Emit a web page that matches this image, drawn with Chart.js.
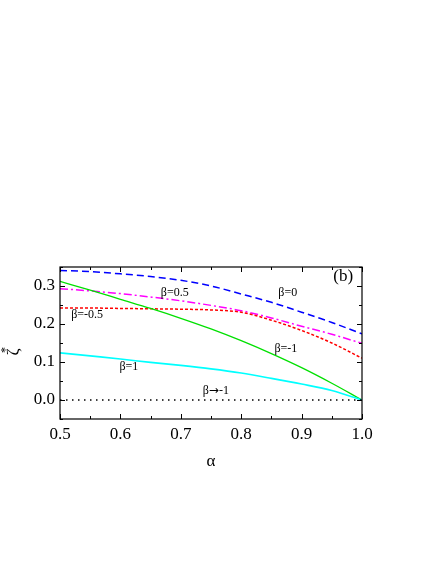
<!DOCTYPE html>
<html>
<head>
<meta charset="utf-8">
<script src="https://cdn.jsdelivr.net/npm/chart.js@4/dist/chart.umd.min.js"></script>
<style>
  html, body { margin: 0; padding: 0; background: #fff; }
  #wrap { width: 436px; height: 564px; }
</style>
</head>
<body>
<div id="wrap"><canvas id="chart" width="436" height="564"></canvas></div>
<script>
// alpha values (x axis)
const alpha = [0.5, 0.55, 0.6, 0.65, 0.7, 0.75, 0.8, 0.85, 0.9, 0.95, 1.0];

// zeta* for each beta
const beta0    = [0.341, 0.338, 0.332, 0.325, 0.315, 0.300, 0.279, 0.257, 0.231, 0.204, 0.174];
const betaHalf = [0.293, 0.287, 0.280, 0.271, 0.261, 0.249, 0.235, 0.216, 0.194, 0.173, 0.149];
const betaMHalf = [0.242, 0.242, 0.241, 0.240, 0.239, 0.237, 0.231, 0.210, 0.183, 0.150, 0.110];
const betaM1   = [0.312, 0.289, 0.265, 0.241, 0.215, 0.187, 0.156, 0.122, 0.085, 0.044, 0.0];
const beta1    = [0.124, 0.116, 0.108, 0.099, 0.091, 0.082, 0.071, 0.057, 0.042, 0.025, 0.0];
const betaLim  = [0, 0, 0, 0, 0, 0, 0, 0, 0, 0, 0];

const xTickLabels = ['0.5', '0.6', '0.7', '0.8', '0.9', '1.0'];
const yTickLabels = ['0.0', '0.1', '0.2', '0.3'];

// curve labels placed in data coordinates
const curveLabels = [
    { text: 'β=0', x: 0.877, y: 0.282 },
    { text: 'β=0.5', x: 0.690, y: 0.282 },
    { text: 'β=-0.5', x: 0.545, y: 0.224 },
    { text: 'β=-1', x: 0.874, y: 0.134 },
    { text: 'β=1', x: 0.614, y: 0.087 },
    { text: 'β→-1', x: 0.758, y: 0.024 }
];

const serif = '"Liberation Serif", "DejaVu Serif", serif';

function pts(ys) {
    return alpha.map((a, i) => ({ x: a, y: ys[i] }));
}

// true for 0.0, 0.1, 0.2 ... (not the 0.05 minor steps)
function isMajor(v) {
    return Math.abs(Math.round(v * 10) - v * 10) < 1e-6;
}

function label(v, list) {
    if (!isMajor(v)) return '';
    const s = (Math.round(v * 10) / 10).toFixed(1);
    return list.includes(s) ? s : '';
}

// draw text centred at (x, y); the arrow gets a wider glyph like the original
function drawLabel(ctx, text, x, y) {
    const parts = text.split(/(→)/).filter(p => p);
    const fonts = parts.map(p => p === '→' ? '12px "DejaVu Sans"' : '12px ' + serif);
    const widths = parts.map((p, i) => { ctx.font = fonts[i]; return ctx.measureText(p).width; });
    let cx = x - widths.reduce((s, w) => s + w, 0) / 2;
    ctx.textAlign = 'left';
    parts.forEach((p, i) => {
        ctx.font = fonts[i];
        ctx.fillText(p, cx, y);
        cx += widths[i];
    });
}

// box, inward ticks on all four sides, curve labels, y title
const framePlugin = {
    id: 'frame',
    afterDraw(chart) {
        const ctx = chart.ctx;
        const a = chart.chartArea;
        const xs = chart.scales.x;
        const ys = chart.scales.y;
        ctx.save();
        ctx.strokeStyle = '#000';
        ctx.lineWidth = 1.2;
        ctx.strokeRect(a.left, a.top, a.right - a.left, a.bottom - a.top);

        ctx.lineWidth = 1;
        ctx.beginPath();
        xs.ticks.forEach(t => {
            const px = Math.round(xs.getPixelForValue(t.value)) + 0.5;
            const len = isMajor(t.value) ? 5 : 3;
            ctx.moveTo(px, a.bottom); ctx.lineTo(px, a.bottom - len);
            ctx.moveTo(px, a.top); ctx.lineTo(px, a.top + len);
        });
        ys.ticks.forEach(t => {
            const py = Math.round(ys.getPixelForValue(t.value)) + 0.5;
            const len = isMajor(t.value) ? 5 : 3;
            ctx.moveTo(a.left, py); ctx.lineTo(a.left + len, py);
            ctx.moveTo(a.right, py); ctx.lineTo(a.right - len, py);
        });
        ctx.stroke();

        ctx.fillStyle = '#000';
        ctx.textBaseline = 'middle';
        curveLabels.forEach(l => {
            drawLabel(ctx, l.text, xs.getPixelForValue(l.x), ys.getPixelForValue(l.y));
        });
        ctx.textAlign = 'center';
        ctx.font = '17px ' + serif;
        ctx.fillText('(b)', xs.getPixelForValue(0.969), ys.getPixelForValue(0.326));

        // y title: zeta with superscript star, rotated
        ctx.translate(14, 352);
        ctx.rotate(-Math.PI / 2);
        ctx.font = '17px ' + serif;
        ctx.fillText('ζ', 0, 0);
        ctx.font = '12px ' + serif;
        ctx.fillText('*', 2, -8);
        ctx.restore();
    }
};

const ctx = document.getElementById('chart').getContext('2d');
new Chart(ctx, {
    type: 'line',
    data: {
        datasets: [
            { label: 'β→-1', data: pts(betaLim), borderColor: '#000', borderWidth: 1.5, borderDash: [1.5, 4.5] },
            { label: 'β=1', data: pts(beta1), borderColor: '#00ffff', borderWidth: 1.6 },
            { label: 'β=-1', data: pts(betaM1), borderColor: '#00e000', borderWidth: 1.3 },
            { label: 'β=-0.5', data: pts(betaMHalf), borderColor: '#ff0000', borderWidth: 1.5, borderDash: [3, 2] },
            { label: 'β=0.5', data: pts(betaHalf), borderColor: '#ff00ff', borderWidth: 1.5, borderDash: [8, 3, 2, 3] },
            { label: 'β=0', data: pts(beta0), borderColor: '#0000ff', borderWidth: 1.5, borderDash: [7, 4] }
        ]
    },
    options: {
        responsive: false,
        animation: false,
        layout: { padding: { top: 267, right: 74, bottom: 65, left: 0 } },
        elements: {
            point: { radius: 0 },
            line: { cubicInterpolationMode: 'monotone', fill: false }
        },
        plugins: {
            legend: { display: false },
            tooltip: { enabled: false }
        },
        scales: {
            x: {
                type: 'linear',
                min: 0.5,
                max: 1.0,
                afterFit: s => { s.height = 80; },
                grid: { display: false, drawTicks: false },
                border: { display: false },
                ticks: {
                    stepSize: 0.05,
                    padding: 5,
                    autoSkip: false,
                    maxRotation: 0,
                    color: '#000',
                    font: { family: serif, size: 17 },
                    callback: v => label(v, xTickLabels)
                },
                title: {
                    display: true,
                    text: 'α',
                    color: '#000',
                    font: { family: serif, size: 17 },
                    padding: { top: 0, bottom: 27 }
                }
            },
            y: {
                type: 'linear',
                min: -0.05,
                max: 0.35,
                afterFit: s => { s.width = 60; },
                grid: { display: false, drawTicks: false },
                border: { display: false },
                ticks: {
                    stepSize: 0.05,
                    padding: 5,
                    autoSkip: false,
                    color: '#000',
                    font: { family: serif, size: 17 },
                    callback: v => label(v, yTickLabels)
                },
                title: { display: false }
            }
        }
    },
    plugins: [framePlugin]
});
</script>
</body>
</html>
